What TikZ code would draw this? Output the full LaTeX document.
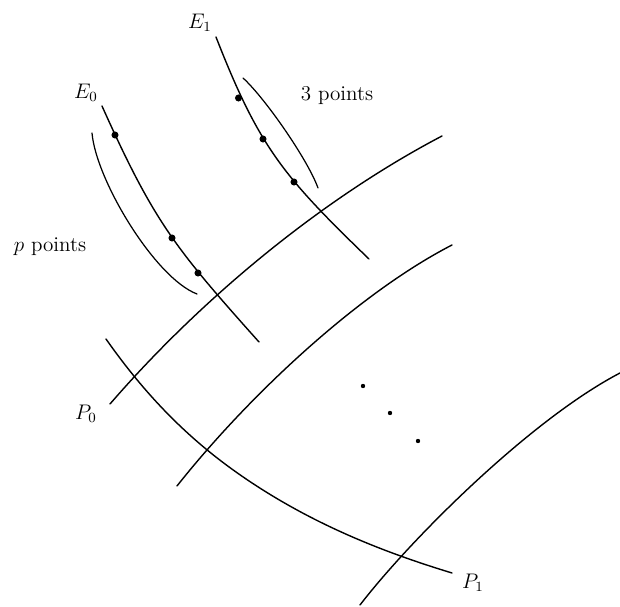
\documentclass[tikz,border=0pt]{standalone}
\usetikzlibrary{positioning}

\begin{document}
\begin{tikzpicture}[
    x=0.02cm, y=-0.02cm, % one unit = one pixel of the sketch
    curve/.style={line width=0.8pt, line cap=round}, % Style for the fibres
    brace/.style={line width=0.7pt, line cap=round}, % Style for the point brackets
    pt/.style={circle, fill, inner sep=0pt, minimum size=4pt}, % Marked points
    dotty/.style={circle, fill, inner sep=0pt, minimum size=2.5pt}, % Ellipsis dots
    labelstyle/.style={font=\large} % Style for labels
]
    \useasboundingbox (0,0) rectangle (620,607);

    % Horizontal family
    \draw[curve] (110,404) .. controls (200,300) and (320,200) .. (442,136);
    \draw[curve] (177,486) .. controls (245,400) and (355,295) .. (452,245);
    \draw[curve] (360,605) .. controls (410,540) and (530,420) .. (620,373);

    % Transversal curve
    \draw[curve] (106,339) .. controls (146,396) and (188,438) .. (236,472)
                           .. controls (308,523) and (383,552) .. (452,573);

    % Exceptional curves
    \draw[curve] (102,106) .. controls (154,222) and (175,248) .. (259,342);
    \draw[curve] (216,37) .. controls (259,147) and (283,176) .. (369,259);

    % Brackets
    \draw[brace] (92,133) .. controls (96,180) and (155,278) .. (197,294);
    \draw[brace] (243,78) .. controls (265,98) and (308,160) .. (318,188);

    % Marked points
    \node[pt] (a1) at (115,135) {};
    \node[pt] (a2) at (172,238) {};
    \node[pt] (a3) at (198,273) {};
    \node[pt] (b1) at (238.5,98) {};
    \node[pt] (b2) at (263,139) {};
    \node[pt] (b3) at (294,182) {};

    % Dots
    \node[dotty] (d1) at (363,386) {};
    \node[dotty] (d2) at (390,413) {};
    \node[dotty] (d3) at (418,441) {};

    % Labels
    \node[labelstyle] (E0) at (86,93) {$E_0$};
    \node[labelstyle] (E1) at (200,23) {$E_1$};
    \node[labelstyle] (three) at (337,96) {3 points};
    \node[labelstyle] (pp) at (50,247) {$p$ points};
    \node[labelstyle] (P0) at (86,414) {$P_0$};
    \node[labelstyle] (P1) at (473,583) {$P_1$};

\end{tikzpicture}
\end{document}
